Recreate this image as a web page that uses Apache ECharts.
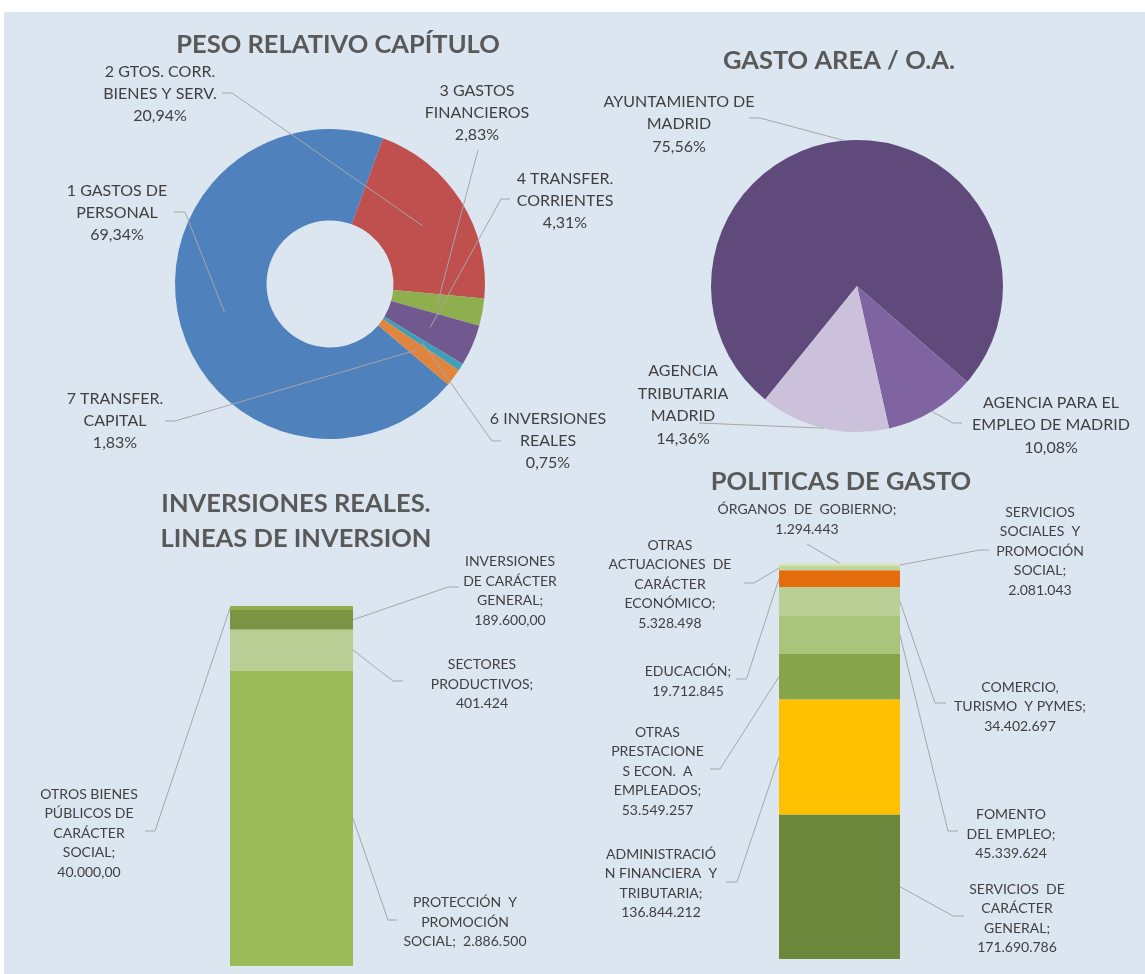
<!DOCTYPE html>
<html>
<head>
<meta charset="utf-8">
<script src="https://cdn.jsdelivr.net/npm/echarts@6/dist/echarts.min.js"></script>
<style>
  html, body { margin: 0; padding: 0; background: #ffffff; }
  #wrap { position: relative; width: 1145px; height: 974px; background: #ffffff; overflow: hidden; }
  #panel { position: absolute; left: 4px; top: 12px; right: 0; bottom: 0; background: #dce6f1; }
  #chart { position: absolute; left: 0; top: 0; width: 1145px; height: 974px; }
</style>
</head>
<body>
<div id="wrap"><div id="panel"></div><div id="chart"></div></div>
<script>
// ---- Peso relativo por capítulo (%) ----
const capitulos = ['1 GASTOS DE PERSONAL', '2 GTOS. CORR. BIENES Y SERV.', '3 GASTOS FINANCIEROS',
  '4 TRANSFER. CORRIENTES', '6 INVERSIONES REALES', '7 TRANSFER. CAPITAL'];
const capituloTextos = ['1 GASTOS DE\nPERSONAL', '2 GTOS. CORR.\nBIENES Y SERV.', '3 GASTOS\nFINANCIEROS',
  '4 TRANSFER.\nCORRIENTES', '6 INVERSIONES\nREALES', '7 TRANSFER.\nCAPITAL'];
const capituloPct = [69.34, 20.94, 2.83, 4.31, 0.75, 1.83];

// ---- Gasto por área / organismo autónomo (%) ----
const areas = ['AYUNTAMIENTO DE MADRID', 'AGENCIA PARA EL EMPLEO DE MADRID', 'AGENCIA TRIBUTARIA MADRID'];
const areaTextos = ['AYUNTAMIENTO DE\nMADRID', 'AGENCIA PARA EL\nEMPLEO DE MADRID', 'AGENCIA\nTRIBUTARIA\nMADRID'];
const areaPct = [75.56, 10.08, 14.36];

// ---- Inversiones reales: líneas de inversión (stacked from the bottom) ----
const lineasInversion = ['PROTECCIÓN Y PROMOCIÓN SOCIAL', 'SECTORES PRODUCTIVOS',
  'INVERSIONES DE CARÁCTER GENERAL', 'OTROS BIENES PÚBLICOS DE CARÁCTER SOCIAL'];
const lineasTextos = ['PROTECCIÓN  Y\nPROMOCIÓN\nSOCIAL;  ', 'SECTORES\nPRODUCTIVOS;\n',
  'INVERSIONES\nDE CARÁCTER\nGENERAL;\n', 'OTROS BIENES\nPÚBLICOS DE\nCARÁCTER\nSOCIAL;\n'];
const lineasImporte = [2886500, 401424, 189600, 40000];
const lineasDecimales = [0, 0, 2, 2];

// ---- Políticas de gasto (stacked from the bottom) ----
const politicas = ['SERVICIOS DE CARÁCTER GENERAL', 'ADMINISTRACIÓN FINANCIERA Y TRIBUTARIA',
  'OTRAS PRESTACIONES ECON. A EMPLEADOS', 'FOMENTO DEL EMPLEO', 'COMERCIO, TURISMO Y PYMES',
  'EDUCACIÓN', 'OTRAS ACTUACIONES DE CARÁCTER ECONÓMICO', 'SERVICIOS SOCIALES Y PROMOCIÓN SOCIAL',
  'ÓRGANOS DE GOBIERNO'];
const politicasTextos = ['SERVICIOS  DE\nCARÁCTER\nGENERAL;\n', 'ADMINISTRACIÓ\nN FINANCIERA  Y\nTRIBUTARIA;\n',
  'OTRAS\nPRESTACIONE\nS ECON.  A\nEMPLEADOS;\n', 'FOMENTO\nDEL EMPLEO;\n', 'COMERCIO,\nTURISMO  Y PYMES;\n',
  'EDUCACIÓN;\n', 'OTRAS\nACTUACIONES  DE\nCARÁCTER\nECONÓMICO;\n', 'SERVICIOS\nSOCIALES  Y\nPROMOCIÓN\nSOCIAL;\n',
  'ÓRGANOS  DE  GOBIERNO;\n'];
const politicasImporte = [171690786, 136844212, 53549257, 45339624, 34402697, 19712845, 5328498, 2081043, 1294443];

// ---- styling ----
const FONT = 'Lato, "Open Sans", sans-serif';
const TEXT_COLOR = '#404040';
const TITLE_COLOR = '#595959';
const LINE_COLOR = '#a6a6a6';
const capituloColores = ['#4f81bd', '#c0504d', '#8fae4e', '#71588f', '#3f9fb8', '#e0853d'];
const areaColores = ['#604a7b', '#8064a2', '#ccc1da'];
const lineasColores = ['#9bbb59', '#b9ce95', '#7a9443', '#8faf4f'];
const politicasColores = ['#6b873b', '#ffc000', '#86a44a', '#a9c47b', '#b9cf96', '#e46c0a', '#c3d69b', '#d7e4bd', '#dae6c4'];

// label placement: label centre, bend of the leader and its end next to the text
const donutSpots = [
  { at: [117, 213], bend: [185, 212], end: [174, 212] },
  { at: [160, 94], bend: [232, 93], end: [222, 93] },
  { at: [477, 113], bend: [478, 150], end: [478, 150] },
  { at: [565, 201], bend: [501, 199], end: [510, 199] },
  { at: [548, 441], bend: [492, 441], end: [501, 441] },
  { at: [115, 421], bend: [175, 421], end: [165, 421] }
];
const pieSpots = [
  { at: [679, 124], bend: [760, 118], end: [749, 118] },
  { at: [1051, 425], bend: [953, 423], end: [962, 423] },
  { at: [683, 405], bend: [699, 423], end: [699, 423] }
];
const lineasSpots = [
  { at: [465, 922], bend: [388, 920], end: [397, 920], side: 'right' },
  { at: [482, 684], bend: [393, 681], end: [403, 681], side: 'right' },
  { at: [510, 591], bend: [448, 587], end: [459, 587], side: 'right' },
  { at: [89, 833], bend: [155, 831], end: [145, 831], side: 'left' }
];
const politicasSpots = [
  { at: [1017, 918.5], bend: [953, 916], end: [964, 916], side: 'right' },
  { at: [661, 883.5], bend: [737, 882], end: [726, 882], side: 'left' },
  { at: [657.5, 771], bend: [720, 769], end: [710, 769], side: 'left' },
  { at: [1011, 834], bend: [948, 831], end: [958, 831], side: 'right' },
  { at: [1020, 706.5], bend: [935, 703], end: [946, 703], side: 'right' },
  { at: [688, 681.5], bend: [746.5, 679], end: [736, 679], side: 'left' },
  { at: [670, 584], bend: [754, 583], end: [744, 583], side: 'left' },
  { at: [1040, 551], bend: [980, 550], end: [989, 550], side: 'right' },
  { at: [807, 519.5], bend: [807, 544], end: [807, 544], side: 'top' }
];

const DONUT = { center: [330, 284], r0: 63.5, r: 155, start: -40.4 };
const PIE = { center: [857, 286], r: 146, start: -129 };

function sum(arr) { return arr.reduce((a, b) => a + b, 0); }

function pctText(v) { return v.toFixed(2).replace('.', ',') + '%'; }

function fmtNum(v, dec) {
  const parts = v.toFixed(dec).split('.');
  const ent = parts[0].replace(/\B(?=(\d{3})+(?!\d))/g, '.');
  return parts.length > 1 ? ent + ',' + parts[1] : ent;
}

// point on the slice's bisector at radius r (angles follow ECharts: ccw from 3 o'clock, drawn clockwise)
function sliceAnchor(values, idx, startDeg, center, r) {
  const total = sum(values);
  const before = sum(values.slice(0, idx)) + values[idx] / 2;
  const theta = (startDeg - before / total * 360) * Math.PI / 180;
  return [center[0] + r * Math.cos(theta), center[1] - r * Math.sin(theta)];
}

function pieLabelLayout(spots) {
  return function (params) {
    const s = spots[params.dataIndex];
    return { x: s.at[0], y: s.at[1], align: 'center', verticalAlign: 'middle' };
  };
}

// leader lines of a pie: from a point inside each slice to its label
function pieLeaderSeries(values, spots, geo, anchorR) {
  return {
    type: 'custom', coordinateSystem: 'none', silent: true, z: 3,
    data: values.map((v, i) => i),
    renderItem: function (params) {
      const i = params.dataIndex;
      const a = sliceAnchor(values, i, geo.start, geo.center, anchorR);
      const s = spots[i];
      return {
        type: 'polyline',
        shape: { points: [a, s.bend, s.end] },
        style: { stroke: LINE_COLOR, lineWidth: 1, fill: null }
      };
    }
  };
}

function stackedSeries(gridIdx, stackName, values, textos, colores, spots, decimals) {
  return values.map((v, i) => ({
    type: 'bar', name: textos[i], stack: stackName,
    xAxisIndex: gridIdx, yAxisIndex: gridIdx,
    barWidth: '100%', barCategoryGap: '0%',
    data: [v],
    itemStyle: { color: colores[i] },
    silent: true,
    label: {
      show: true, position: 'inside',
      formatter: () => textos[i] + fmtNum(v, decimals ? decimals[i] : 0),
      color: TEXT_COLOR, fontFamily: FONT, fontSize: 14, lineHeight: 19.5, align: 'center'
    },
    labelLayout: () => ({ x: spots[i].at[0], y: spots[i].at[1], align: 'center', verticalAlign: 'middle' })
  }));
}

// leader lines of the stacked bars, anchored on each segment through the axes
function barLeaderSeries(gridIdx, values, spots) {
  return {
    type: 'custom', xAxisIndex: gridIdx, yAxisIndex: gridIdx, clip: false, silent: true, z: 3,
    data: values.map((v, i) => [0, i]),
    renderItem: function (params, api) {
      const i = api.value(1);
      const base = sum(values.slice(0, i));
      const mid = api.coord([0, base + values[i] / 2]);
      const top = api.coord([0, base + values[i]]);
      const half = api.size([1, 0])[0] / 2;
      const s = spots[i];
      let a;
      if (s.side === 'right') a = [mid[0] + half, mid[1]];
      else if (s.side === 'left') a = [mid[0] - half, mid[1]];
      else a = [top[0], top[1]];
      return {
        type: 'polyline',
        shape: { points: [a, s.bend, s.end] },
        style: { stroke: LINE_COLOR, lineWidth: 1, fill: null }
      };
    }
  };
}

const titleStyle = { fill: TITLE_COLOR, fontFamily: FONT, fontWeight: 'bold', fontSize: 25.5, align: 'center', verticalAlign: 'middle' };

const chart = echarts.init(document.getElementById('chart'), null, { renderer: 'canvas' });
chart.setOption({
  animation: false,
  backgroundColor: 'transparent',
  graphic: [
    { type: 'text', x: 338, y: 45, style: Object.assign({ text: 'PESO RELATIVO CAPÍTULO' }, titleStyle) },
    { type: 'text', x: 839, y: 61, style: Object.assign({ text: 'GASTO AREA / O.A.' }, titleStyle) },
    { type: 'text', x: 296, y: 521, style: Object.assign({ text: 'INVERSIONES REALES.\nLINEAS DE INVERSION', lineHeight: 35 }, titleStyle) },
    { type: 'text', x: 841, y: 482, style: Object.assign({ text: 'POLITICAS DE GASTO' }, titleStyle) }
  ],
  grid: [
    { left: 230, top: 606, width: 123, height: 360 },
    { left: 779, top: 563, width: 121, height: 396 }
  ],
  xAxis: [
    { gridIndex: 0, type: 'category', data: ['INVERSIONES REALES'], show: false },
    { gridIndex: 1, type: 'category', data: ['POLITICAS DE GASTO'], show: false }
  ],
  yAxis: [
    { gridIndex: 0, type: 'value', show: false, min: 0, max: sum(lineasImporte) },
    { gridIndex: 1, type: 'value', show: false, min: 0, max: sum(politicasImporte) }
  ],
  series: [
    {
      type: 'pie', name: 'PESO RELATIVO CAPÍTULO',
      center: DONUT.center, radius: [DONUT.r0, DONUT.r],
      startAngle: DONUT.start, clockwise: true, avoidLabelOverlap: false, silent: true,
      data: capitulos.map((n, i) => ({ name: n, value: capituloPct[i], itemStyle: { color: capituloColores[i] } })),
      label: {
        show: true, position: 'outside',
        formatter: p => capituloTextos[p.dataIndex] + '\n' + pctText(p.value),
        color: TEXT_COLOR, fontFamily: FONT, fontSize: 16, lineHeight: 22, align: 'center'
      },
      labelLine: { show: false },
      labelLayout: pieLabelLayout(donutSpots)
    },
    pieLeaderSeries(capituloPct, donutSpots, DONUT, (DONUT.r0 + DONUT.r) / 2),
    {
      type: 'pie', name: 'GASTO AREA / O.A.',
      center: PIE.center, radius: [0, PIE.r],
      startAngle: PIE.start, clockwise: true, avoidLabelOverlap: false, silent: true,
      data: areas.map((n, i) => ({ name: n, value: areaPct[i], itemStyle: { color: areaColores[i] } })),
      label: {
        show: true, position: 'outside',
        formatter: p => areaTextos[p.dataIndex] + '\n' + pctText(p.value),
        color: TEXT_COLOR, fontFamily: FONT, fontSize: 16, lineHeight: 22.5, align: 'center'
      },
      labelLine: { show: false },
      labelLayout: pieLabelLayout(pieSpots)
    },
    pieLeaderSeries(areaPct, pieSpots, PIE, PIE.r)
  ]
    .concat(stackedSeries(0, 'inversiones', lineasImporte, lineasTextos, lineasColores, lineasSpots, lineasDecimales))
    .concat([barLeaderSeries(0, lineasImporte, lineasSpots)])
    .concat(stackedSeries(1, 'politicas', politicasImporte, politicasTextos, politicasColores, politicasSpots, null))
    .concat([barLeaderSeries(1, politicasImporte, politicasSpots)])
});
</script>
</body>
</html>
